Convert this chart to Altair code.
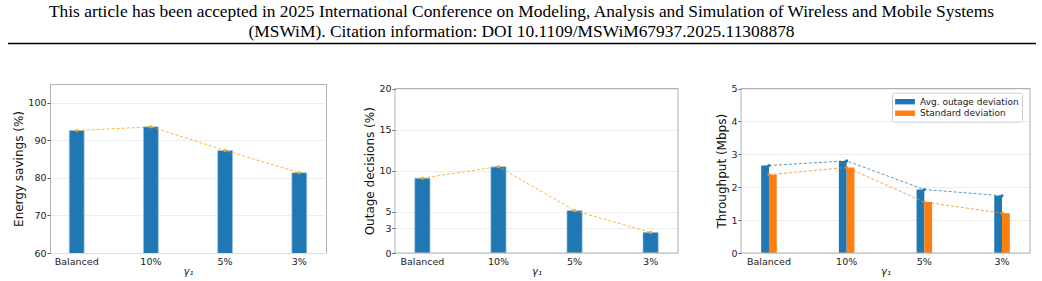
import altair as alt
import pandas as pd

# ---------------- data ----------------
categories = ["Balanced", "10%", "5%", "3%"]
energy_savings = [92.6, 93.6, 87.3, 81.4]
outage_decisions = [9.1, 10.5, 5.15, 2.5]
throughput_avg = [2.66, 2.80, 1.93, 1.74]
throughput_std = [2.38, 2.60, 1.55, 1.21]
series_names = ["Avg. outage deviation", "Standard deviation"]

header_lines = [
    "This article has been accepted in 2025 International Conference on Modeling, Analysis and Simulation of Wireless and Mobile Systems",
    "(MSWiM). Citation information: DOI 10.1109/MSWiM67937.2025.11308878",
]

# ---------------- style ----------------
FONT = "DejaVu Sans"
BLUE = "#1f77b4"
ORANGE = "#ff7f0e"
LINE_ORANGE = "#ffa500"
FRAME = "#b0b0b0"
H = 169          # full panel height (panel 1)
TOP_SHORT = 4.5  # panels 2 and 3 start a little lower

df1 = pd.DataFrame({"cat": categories, "val": energy_savings})
df2 = pd.DataFrame({"cat": categories, "val": outage_decisions})
df3 = pd.DataFrame({
    "cat": categories * 2,
    "series": [series_names[0]] * 4 + [series_names[1]] * 4,
    "val": throughput_avg + throughput_std,
})
one = pd.DataFrame({"a": [0]})


def x_enc():
    return alt.X(
        "cat:N", sort=categories,
        scale=alt.Scale(paddingInner=0.8, paddingOuter=0.26),
        axis=alt.Axis(title="γ₁", labelAngle=0, ticks=False, labelPadding=3,
                      titlePadding=1, titleFontSize=10, titleFontStyle="italic"),
    )


def y_enc(title, domain, values, top=0):
    sc = alt.Scale(domain=domain, nice=False, zero=False)
    if top:
        sc = alt.Scale(domain=domain, nice=False, zero=False, range=[H, top])
    return alt.Y(
        "val:Q", scale=sc,
        axis=alt.Axis(title=title, values=values, tickCount=20, format="d",
                      tickSize=3, labelPadding=1, titlePadding=2,
                      labelOverlap=False),
    )


def frame(w, top):
    return alt.Chart(one).mark_rect(fillOpacity=0, stroke=FRAME, strokeWidth=1).encode(
        x=alt.value(0), x2=alt.value(w), y=alt.value(top), y2=alt.value(H))


def simple_panel(df, title, domain, values, w, top=0):
    base = alt.Chart(df)
    bars = base.mark_bar(color=BLUE, stroke="#9ec5e4", strokeWidth=0.6,
                         clip=True).encode(
        x=x_enc(), y=y_enc(title, domain, values, top))
    line = base.mark_line(color=LINE_ORANGE, strokeDash=[3, 2], strokeWidth=1,
                          opacity=0.8).encode(x=alt.X("cat:N", sort=categories),
                                              y="val:Q")
    pts = base.mark_point(color=LINE_ORANGE, filled=True, size=10,
                          opacity=1).encode(x=alt.X("cat:N", sort=categories),
                                            y="val:Q")
    layers = [bars, line, pts]
    props = dict(width=w, height=H)
    if top:
        layers.append(frame(w, top))
        props["view"] = alt.ViewBackground(strokeOpacity=0)
    return alt.layer(*layers).properties(**props)


p1 = simple_panel(df1, "Energy savings (%)", [60, 105], [60, 70, 80, 90, 100], 276)
p2 = simple_panel(df2, "Outage decisions (%)", [0, 20], [0, 3, 5, 10, 15, 20],
                  283, top=TOP_SHORT)

base3 = alt.Chart(df3)
bars3 = base3.mark_bar().encode(
    x=x_enc(),
    xOffset=alt.XOffset("series:N", sort=series_names,
                        scale=alt.Scale(paddingInner=0, paddingOuter=0)),
    y=y_enc("Throughput (Mbps)", [0, 5], [0, 1, 2, 3, 4, 5], TOP_SHORT),
    color=alt.Color("series:N", sort=series_names,
                    scale=alt.Scale(domain=series_names, range=[BLUE, ORANGE]),
                    legend=alt.Legend(
                        title=None, orient="none", legendX=151, legendY=8.7,
                        fillColor="white", strokeColor="#cccccc", cornerRadius=2,
                        padding=3, rowPadding=0.5,
                        symbolType="M-1.65,-0.45L1.65,-0.45L1.65,0.45L-1.65,0.45Z",
                        symbolSize=144, symbolStrokeWidth=0, symbolOpacity=1,
                        symbolOffset=4,
                        labelFont=FONT, labelFontSize=9, labelColor="#222",
                        labelOffset=9)),
)
lines3 = []
for name, col in zip(series_names, [BLUE, ORANGE]):
    sub = base3.transform_filter(alt.datum.series == name)
    lines3.append(sub.mark_line(color=col, strokeDash=[3, 2], strokeWidth=1,
                                opacity=0.75).encode(
        x=alt.X("cat:N", sort=categories), y="val:Q"))
    lines3.append(sub.mark_point(color=col, filled=True, size=10, opacity=1).encode(
        x=alt.X("cat:N", sort=categories), y="val:Q"))
p3 = alt.layer(bars3, *lines3, frame(289, TOP_SHORT)).properties(
    width=289, height=H, view=alt.ViewBackground(strokeOpacity=0))

row = alt.hconcat(p1, p2, p3, spacing=36).resolve_scale(
    color="independent").resolve_legend(color="independent")

# header: two centred lines of serif text and a rule beneath them
head_df = pd.DataFrame({"line": header_lines, "idx": [0, 1]})
HEAD_H = 44.5
HEAD_FS = 17.4
head_rule = alt.Chart(one).mark_rule(color="black", strokeWidth=1.3).encode(
    x=alt.value(-42), x2=alt.value(986), y=alt.value(43.5))
head_l1 = alt.Chart(head_df).transform_filter(alt.datum.idx == 0).mark_text(
    font="Liberation Serif", fontSize=HEAD_FS, color="black", align="center",
    baseline="alphabetic").encode(text="line:N", x=alt.value(471.5),
                                  y=alt.value(17.0))
head_l2 = alt.Chart(head_df).transform_filter(alt.datum.idx == 1).mark_text(
    font="Liberation Serif", fontSize=HEAD_FS, color="black", align="center",
    baseline="alphabetic").encode(text="line:N", x=alt.value(471.5),
                                  y=alt.value(36.6))
header = alt.layer(head_rule, head_l1, head_l2).properties(
    width=986, height=HEAD_H, view=alt.ViewBackground(strokeOpacity=0))

chart = alt.vconcat(header, row, spacing=38).properties(
    padding={"left": 7, "top": 0, "right": 0, "bottom": 0},
    background="white",
).resolve_scale(color="independent").resolve_legend(
    color="independent"
).configure_view(
    stroke=FRAME, strokeWidth=1
).configure_axis(
    labelFont=FONT, labelFontSize=9.5, labelColor="#222",
    titleFont=FONT, titleFontSize=12, titleFontWeight="normal", titleColor="#111",
    domain=False, tickColor="#555", gridColor="#e9e9e9", gridWidth=0.8,
).configure_axisX(grid=False)

chart.save("out.html", embed_options={"renderer": "svg", "actions": False})
